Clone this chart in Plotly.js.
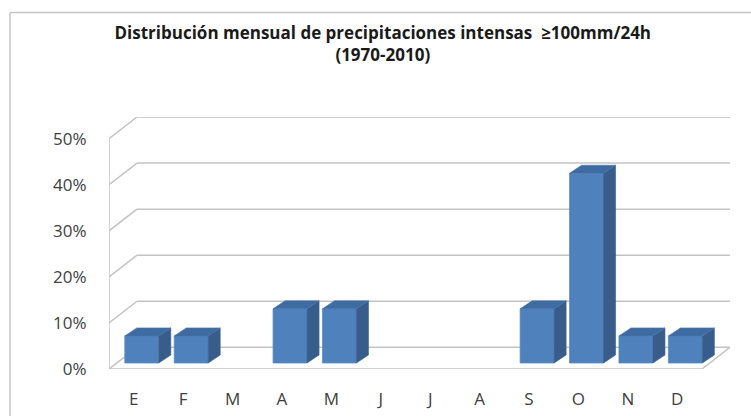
<!DOCTYPE html>
<html>
<head>
<meta charset="utf-8">
<script src="https://cdn.plot.ly/plotly-3.0.1.min.js"></script>
<style>html,body{margin:0;padding:0;background:#fff;}#chart{width:751px;height:416px;}</style>
</head>
<body>
<div id="chart"></div>
<script>
// ---- data ----
var months = ["E","F","M","A","M","J","J","A","S","O","N","D"];
var values = [5.88, 5.88, 0, 11.76, 11.76, 0, 0, 0, 11.76, 41.18, 5.88, 5.88]; // % of events
var yTickVals = [0, 10, 20, 30, 40, 50];
var yTickText = ["0%", "10%", "20%", "30%", "40%", "50%"];

// ---- 3D projection constants (axis units) ----
var DX = 0.567;   // wall depth along x (category units)
var DY = 4.7;     // wall depth along y (% units)
var FX = 0.164;   // bar front-face offset into depth (x)
var FB = 1.3;     // bar front-face base offset into depth (y)
var BW = 0.688;   // bar width
var BDX = 0.243;  // bar depth x
var BDY = 1.74;   // bar depth y

var idx = months.map(function(_, i){ return i; });
var n = months.length;
var gridCol = '#c3c3c3';

var shapes = [];
yTickVals.forEach(function(v){
  shapes.push({type:'line', xref:'x', yref:'y', layer:'below',
    x0:-0.5+DX, y0:v+DY, x1:n-0.5+DX, y1:v+DY, line:{color:gridCol, width:1.5}});
  shapes.push({type:'line', xref:'x', yref:'y', layer:'below',
    x0:-0.5, y0:v, x1:-0.5+DX, y1:v+DY, line:{color:gridCol, width:1.5}});
});
shapes.push({type:'line', xref:'x', yref:'y', layer:'below',
  x0:-0.5, y0:0, x1:-0.5, y1:50, line:{color:gridCol, width:1.5}});
shapes.push({type:'line', xref:'x', yref:'y', layer:'below',
  x0:-0.5, y0:0, x1:n-0.5, y1:0, line:{color:gridCol, width:1.5}});
shapes.push({type:'line', xref:'x', yref:'y', layer:'below',
  x0:n-0.5, y0:0, x1:n-0.5+DX, y1:DY, line:{color:gridCol, width:1.5}});
// chart border (top and left edges visible in the crop)
var PW = 621, PH = 252;
shapes.push({type:'line', xref:'paper', yref:'paper', layer:'above',
  x0:(10-109)/PW, y0:(369-12.5)/PH, x1:(751-109)/PW, y1:(369-12.5)/PH, line:{color:'#c6c6c6', width:1.5}});
shapes.push({type:'line', xref:'paper', yref:'paper', layer:'above',
  x0:(10-109)/PW, y0:(369-12.5)/PH, x1:(10-109)/PW, y1:(369-416)/PH, line:{color:'#c6c6c6', width:1.5}});

// bar faces
var sideX = [], sideY = [], topX = [], topY = [];
idx.forEach(function(i){
  var v = values[i];
  if (!(v > 0)) return;
  var xl = i + FX - BW/2, xr = i + FX + BW/2, b = FB, t = FB + v;
  sideX.push(xr, xr+BDX, xr+BDX, xr, xr, null);
  sideY.push(b, b+BDY, t+BDY, t, b, null);
  topX.push(xl, xl+BDX, xr+BDX, xr, xl, null);
  topY.push(t, t+BDY, t+BDY, t, t, null);
});

var traces = [
  {type:'bar', x: idx.map(function(i){return i+FX;}), y: values.map(function(v){return v > 0 ? v : null;}),
   base: FB, width: BW,
   marker:{color:'#4f81bd', line:{color:'#5b8cc6', width:0.8}}, hoverinfo:'skip'},
  {type:'scatter', mode:'lines', x: sideX, y: sideY, fill:'toself', fillcolor:'#385d8a',
   line:{color:'#3a6090', width:0.6}, hoverinfo:'skip'},
  {type:'scatter', mode:'lines', x: topX, y: topY, fill:'toself', fillcolor:'#3f6ba3',
   line:{color:'#4672aa', width:0.6}, hoverinfo:'skip'}
];

var fontFam = '"Open Sans", "Noto Sans", sans-serif';
var layout = {
  width: 751, height: 416,
  margin: {l:109, r:21, t:117, b:47, pad:0},
  paper_bgcolor:'#fff', plot_bgcolor:'rgba(0,0,0,0)',
  showlegend:false,
  title: {text:'<b>Distribución mensual de precipitaciones intensas  ≥100mm/24h<br>(1970-2010)</b>',
    x:0.5097, xref:'container', xanchor:'center', y:1 - 38.5/416, yref:'container', yanchor:'middle',
    font:{family:fontFam, size:17, color:'#1a1a1a'}},
  xaxis: {range:[-0.5, n-0.5+DX], tickvals: idx, ticktext: months, showgrid:false, zeroline:false,
    showline:false, ticks:'outside', ticklen:15, tickcolor:'rgba(0,0,0,0)', fixedrange:true,
    tickfont:{family:fontFam, size:17, color:'#404040'}},
  yaxis: {range:[0, 50+DY], tickvals: yTickVals, ticktext: yTickText, showgrid:false, zeroline:false,
    showline:false, ticks:'outside', ticklen:18, tickcolor:'rgba(0,0,0,0)', fixedrange:true,
    tickfont:{family:fontFam, size:17, color:'#404040'}},
  shapes: shapes,
  bargap: 0
};
Plotly.newPlot('chart', traces, layout, {displayModeBar:false, staticPlot:true});
</script>
</body>
</html>
